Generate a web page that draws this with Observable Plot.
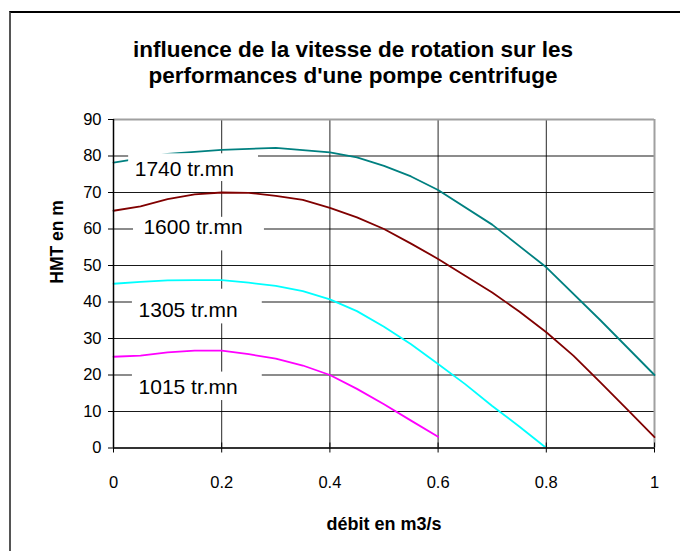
<!DOCTYPE html>
<html><head><meta charset="utf-8">
<script src="https://cdn.jsdelivr.net/npm/d3@7"></script>
<script src="https://cdn.jsdelivr.net/npm/@observablehq/plot@0.6"></script>
<style>
body{margin:0;background:#fff;font-family:"Liberation Sans",Arial,sans-serif;}
#wrap{position:relative;width:680px;height:551px;overflow:hidden;background:#fff;}
#chart{position:absolute;left:0;top:0;}
#frame{position:absolute;left:9px;top:11px;width:700px;height:600px;border-top:2px solid #000;border-left:2px solid #555;}
#title{position:absolute;left:13px;width:680px;top:37px;text-align:center;font-weight:bold;font-size:22.5px;line-height:26px;color:#000;}
</style></head><body>
<div id="wrap"><div id="chart"></div><div id="frame"></div><div id="title">influence de la vitesse de rotation sur les<br>performances d'une pompe centrifuge</div></div>
<script>
// ---- data ----
const speeds = ["1740 tr.mn", "1600 tr.mn", "1305 tr.mn", "1015 tr.mn"];
const colors = ["#008080", "#800000", "#00ffff", "#ff00ff"];

const q1740 = [0, 0.1, 0.2, 0.3, 0.4, 0.45, 0.5, 0.55, 0.6, 0.7, 0.8, 0.9, 1.0];
const h1740 = [78.2, 80.6, 81.7, 82.2, 81, 79.6, 77.3, 74.4, 70.7, 61.2, 49.5, 35, 20];

const q1600 = [0, 0.05, 0.1, 0.15, 0.2, 0.25, 0.3, 0.35, 0.4, 0.45, 0.5, 0.55, 0.6, 0.65, 0.7, 0.75, 0.8, 0.85, 0.9, 0.95, 1.0];
const h1600 = [65, 66.2, 68.2, 69.5, 70, 69.9, 69.1, 68, 65.8, 63.2, 60, 56, 51.8, 47.2, 42.6, 37.4, 31.7, 25.3, 18, 10.5, 3];

const q1305 = [0, 0.05, 0.1, 0.15, 0.2, 0.25, 0.3, 0.35, 0.4, 0.45, 0.5, 0.55, 0.6, 0.65, 0.7, 0.75, 0.8];
const h1305 = [45, 45.5, 45.9, 46, 46, 45.3, 44.4, 43, 40.7, 37.5, 33.2, 28.4, 23, 17.5, 11.5, 5.9, 0];

const q1015 = [0, 0.05, 0.1, 0.15, 0.2, 0.25, 0.3, 0.35, 0.4, 0.45, 0.5, 0.55, 0.6];
const h1015 = [25, 25.3, 26.2, 26.7, 26.7, 25.7, 24.5, 22.6, 20, 16.2, 12, 7.5, 3.1];

const xTicks = [0, 0.2, 0.4, 0.6, 0.8, 1];
const yTicks = [0, 10, 20, 30, 40, 50, 60, 70, 80, 90];

// label text boxes (data coordinates of annotation boxes)
const labelX = [0.131, 0.147, 0.138, 0.138];
const labelY = [76.4, 60.5, 37.6, 16.6];
const boxX1 = [0.028, 0.037, 0.035, 0.035];
const boxX2 = [0.268, 0.279, 0.275, 0.275];
const boxY1 = [73, 54, 34, 13];
const boxY2 = [80.6, 63.2, 43.5, 20.8];

// ---- build tables ----
const series = [[q1740, h1740], [q1600, h1600], [q1305, h1305], [q1015, h1015]];
const rows = series.flatMap(([qs, hs], i) => qs.map((q, j) => ({speed: speeds[i], q, h: hs[j]})));
const labels = speeds.map((s, i) => ({s, x: labelX[i], y: labelY[i], x1: boxX1[i], x2: boxX2[i], y1: boxY1[i], y2: boxY2[i]}));

const fmt = d3.format("~g");

const chart = Plot.plot({
  width: 680,
  height: 551,
  marginLeft: 113,
  marginRight: 26,
  marginTop: 119,
  marginBottom: 103.5,
  style: {fontFamily: "'Liberation Sans', Arial, sans-serif", background: "transparent", color: "#000"},
  x: {domain: [0, 1]},
  y: {domain: [0, 90]},
  color: {domain: speeds, range: colors},
  marks: [
    Plot.gridY(yTicks.filter(d => d > 0 && d < 90), {stroke: "#000", strokeOpacity: 0.9, strokeWidth: 1}),
    Plot.gridX(xTicks.filter(d => d > 0 && d < 1), {stroke: "#000", strokeOpacity: 0.85, strokeWidth: 1}),
    Plot.ruleY([90], {stroke: "#a0a0a0", strokeWidth: 2}),
    Plot.ruleX([1], {stroke: "#a0a0a0", strokeWidth: 2}),
    Plot.line(rows, {x: "q", y: "h", z: "speed", stroke: "speed", strokeWidth: 1.8}),
    Plot.rect(labels, {x1: "x1", x2: "x2", y1: "y1", y2: "y2", fill: "#fff"}),
    Plot.text(labels, {x: "x", y: "y", text: "s", fontSize: 21, fill: "#000"}),
    Plot.ruleY([0], {stroke: "#333", strokeWidth: 2}),
    Plot.ruleX([0], {stroke: "#000", strokeWidth: 1.5}),
    Plot.axisY(yTicks, {tickSize: 5, tickPadding: 7, fontSize: 16.5, label: null, tickFormat: fmt}),
    Plot.axisX(xTicks, {tickSize: 5, tickPadding: 23, fontSize: 16.5, label: null, tickFormat: fmt}),
    Plot.axisX(xTicks, {tickSize: 5, dy: -5, tickFormat: () => "", label: null}),
    Plot.text(["HMT en m"], {frameAnchor: "left", dx: -56, rotate: -90, fontWeight: "bold", fontSize: 17.5}),
    Plot.text(["débit en m3/s"], {frameAnchor: "bottom", dy: 82, fontWeight: "bold", fontSize: 18})
  ]
});
document.getElementById("chart").appendChild(chart);
</script>
</body></html>
